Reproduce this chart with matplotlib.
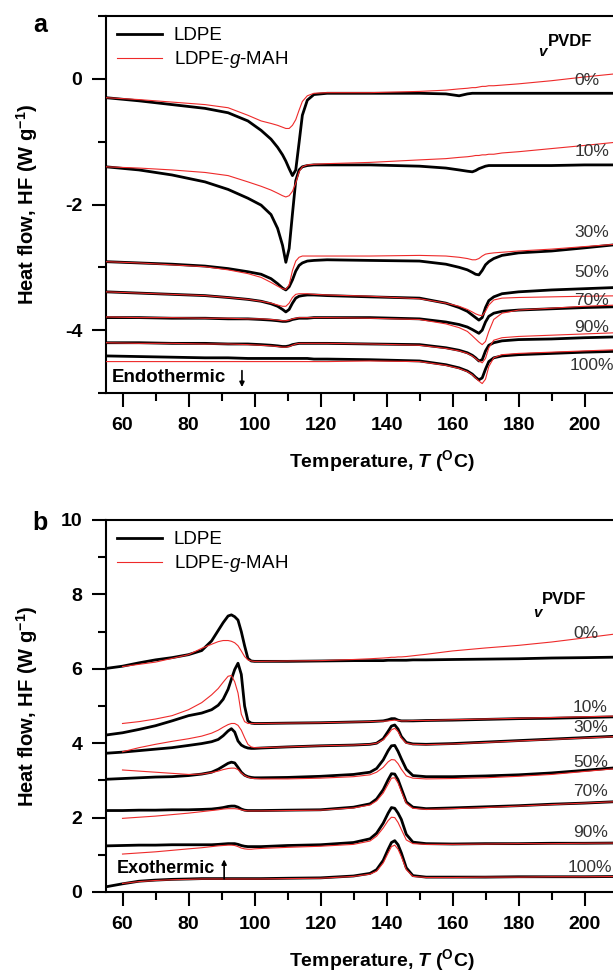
import numpy as np
import matplotlib
matplotlib.use('Agg')
import matplotlib.pyplot as plt
from matplotlib.ticker import MultipleLocator

plt.rcParams['font.family'] = ['Liberation Sans', 'DejaVu Sans']
plt.rcParams['mathtext.fontset'] = 'custom'
plt.rcParams['mathtext.default'] = 'regular'
plt.rcParams['mathtext.it'] = 'Liberation Sans:italic'
plt.rcParams['mathtext.bfit'] = 'Liberation Sans:italic:bold'
plt.rcParams['mathtext.bf'] = 'Liberation Sans:bold'
plt.rcParams['axes.unicode_minus'] = False

# ---- data: panel a (heating, endothermic) ----
compositions = ['0%', '10%', '30%', '50%', '70%', '90%', '100%']

T_a = [55, 65, 75, 85, 92, 98, 102, 105, 107, 108.5, 109.5, 110.5, 111.5, 112.5,
       113.5, 114.5, 116, 118, 122, 135, 150, 158, 162, 164.5, 166, 167, 168, 169,
       170, 171, 172.5, 175, 180, 190, 200, 215]

ldpe_a_0 = [-0.30, -0.35, -0.41, -0.47, -0.54, -0.67, -0.82, -0.96, -1.09, -1.21, -1.31, -1.43,
            -1.54, -1.45, -1.02, -0.58, -0.34, -0.25, -0.23, -0.23, -0.23, -0.24, -0.27, -0.24,
            -0.23, -0.23, -0.23, -0.23, -0.23, -0.23, -0.23, -0.23, -0.23, -0.23, -0.23, -0.23]
mah_a_0 = [-0.30, -0.33, -0.37, -0.41, -0.46, -0.58, -0.67, -0.71, -0.74, -0.77, -0.79, -0.79,
           -0.74, -0.65, -0.50, -0.36, -0.27, -0.23, -0.22, -0.22, -0.20, -0.18, -0.16, -0.15,
           -0.14, -0.14, -0.13, -0.12, -0.12, -0.11, -0.11, -0.10, -0.08, -0.03, 0.03, 0.11]
ldpe_a_10 = [-1.40, -1.45, -1.53, -1.64, -1.76, -1.90, -2.01, -2.16, -2.38, -2.65, -2.92, -2.70,
             -2.15, -1.62, -1.45, -1.40, -1.38, -1.37, -1.37, -1.37, -1.39, -1.42, -1.45, -1.47,
             -1.48, -1.46, -1.43, -1.41, -1.39, -1.38, -1.38, -1.38, -1.38, -1.38, -1.37, -1.37]
mah_a_10 = [-1.40, -1.42, -1.45, -1.49, -1.54, -1.64, -1.71, -1.77, -1.82, -1.86, -1.88, -1.86,
            -1.79, -1.66, -1.48, -1.40, -1.37, -1.36, -1.35, -1.33, -1.29, -1.27, -1.25, -1.24,
            -1.23, -1.22, -1.22, -1.21, -1.21, -1.20, -1.20, -1.18, -1.16, -1.11, -1.06, -0.98]
ldpe_a_30 = [-2.91, -2.93, -2.95, -2.98, -3.02, -3.07, -3.11, -3.18, -3.26, -3.33, -3.36, -3.31,
             -3.20, -3.06, -2.97, -2.93, -2.90, -2.89, -2.88, -2.89, -2.90, -2.95, -3.00, -3.04,
             -3.08, -3.11, -3.12, -3.05, -2.96, -2.91, -2.86, -2.81, -2.77, -2.74, -2.69, -2.61]
mah_a_30 = [-2.91, -2.93, -2.96, -2.99, -3.04, -3.10, -3.16, -3.24, -3.30, -3.34, -3.35, -3.28,
            -3.05, -2.90, -2.84, -2.82, -2.82, -2.82, -2.82, -2.82, -2.81, -2.82, -2.84, -2.86,
            -2.88, -2.88, -2.86, -2.82, -2.79, -2.78, -2.77, -2.76, -2.74, -2.71, -2.67, -2.61]
ldpe_a_50 = [-3.39, -3.41, -3.43, -3.45, -3.48, -3.51, -3.54, -3.58, -3.62, -3.67, -3.71, -3.67,
             -3.57, -3.49, -3.46, -3.45, -3.44, -3.44, -3.45, -3.47, -3.49, -3.57, -3.64, -3.70,
             -3.76, -3.80, -3.84, -3.80, -3.64, -3.53, -3.47, -3.42, -3.39, -3.36, -3.34, -3.31]
mah_a_50 = [-3.39, -3.41, -3.43, -3.45, -3.48, -3.51, -3.54, -3.57, -3.60, -3.62, -3.62, -3.57,
            -3.48, -3.43, -3.42, -3.42, -3.42, -3.43, -3.44, -3.46, -3.50, -3.57, -3.62, -3.67,
            -3.71, -3.74, -3.76, -3.77, -3.70, -3.60, -3.52, -3.49, -3.48, -3.47, -3.46, -3.45]
ldpe_a_70 = [-3.80, -3.80, -3.81, -3.81, -3.82, -3.82, -3.83, -3.84, -3.85, -3.86, -3.86, -3.85,
             -3.83, -3.82, -3.81, -3.81, -3.81, -3.80, -3.80, -3.80, -3.82, -3.87, -3.91, -3.95,
             -3.99, -4.02, -4.05, -4.00, -3.87, -3.78, -3.73, -3.70, -3.68, -3.66, -3.64, -3.62]
mah_a_70 = [-3.79, -3.80, -3.80, -3.81, -3.81, -3.82, -3.82, -3.83, -3.84, -3.85, -3.85, -3.84,
            -3.82, -3.81, -3.80, -3.80, -3.80, -3.80, -3.80, -3.81, -3.83, -3.90, -3.96, -4.02,
            -4.09, -4.14, -4.19, -4.23, -4.18, -4.02, -3.83, -3.73, -3.68, -3.65, -3.62, -3.59]
ldpe_a_90 = [-4.20, -4.20, -4.21, -4.21, -4.22, -4.22, -4.23, -4.24, -4.25, -4.26, -4.26, -4.25,
             -4.23, -4.22, -4.21, -4.21, -4.21, -4.21, -4.21, -4.22, -4.23, -4.28, -4.32, -4.36,
             -4.40, -4.44, -4.49, -4.47, -4.33, -4.24, -4.20, -4.17, -4.15, -4.14, -4.12, -4.10]
mah_a_90 = [-4.20, -4.21, -4.21, -4.22, -4.22, -4.23, -4.24, -4.25, -4.26, -4.27, -4.27, -4.26,
            -4.24, -4.22, -4.21, -4.21, -4.21, -4.21, -4.21, -4.22, -4.24, -4.29, -4.33, -4.37,
            -4.41, -4.45, -4.49, -4.52, -4.45, -4.28, -4.16, -4.12, -4.10, -4.08, -4.06, -4.03]
ldpe_a_100 = [-4.41, -4.42, -4.43, -4.44, -4.44, -4.45, -4.45, -4.45, -4.45, -4.45, -4.45, -4.45,
              -4.45, -4.45, -4.45, -4.45, -4.45, -4.46, -4.46, -4.47, -4.49, -4.55, -4.60, -4.65,
              -4.70, -4.75, -4.79, -4.76, -4.62, -4.50, -4.44, -4.41, -4.39, -4.37, -4.35, -4.33]
mah_a_100 = [-4.50, -4.50, -4.50, -4.50, -4.50, -4.50, -4.50, -4.50, -4.50, -4.50, -4.50, -4.50,
             -4.50, -4.50, -4.50, -4.50, -4.50, -4.50, -4.50, -4.49, -4.50, -4.56, -4.61, -4.66,
             -4.71, -4.76, -4.81, -4.85, -4.78, -4.58, -4.44, -4.39, -4.37, -4.35, -4.33, -4.30]

# ---- data: panel b (cooling, exothermic) ----
nan = np.nan
T_b = [55, 60, 65, 70, 75, 80, 84, 87, 89, 90.5, 92, 93, 94, 95, 96, 97, 98, 99, 100, 102,
       110, 120, 130, 135, 137, 139, 140.5, 141.5, 142.5, 143.5, 144.5, 146, 148, 152, 160,
       170, 180, 190, 200, 215]

ldpe_b_0 = [6.01, 6.07, 6.16, 6.24, 6.30, 6.38, 6.49, 6.75, 7.03, 7.24, 7.42, 7.45, 7.40, 7.31,
            7.00, 6.62, 6.28, 6.21, 6.20, 6.20, 6.20, 6.21, 6.22, 6.22, 6.22, 6.22, 6.23, 6.23,
            6.23, 6.23, 6.23, 6.23, 6.24, 6.24, 6.25, 6.26, 6.27, 6.29, 6.30, 6.32]
mah_b_0 = [nan, 6.06, 6.12, 6.18, 6.28, 6.38, 6.55, 6.66, 6.73, 6.76, 6.76, 6.74, 6.70, 6.62,
           6.48, 6.33, 6.24, 6.21, 6.20, 6.20, 6.21, 6.22, 6.25, 6.27, 6.28, 6.29, 6.30, 6.31,
           6.31, 6.32, 6.32, 6.33, 6.35, 6.39, 6.48, 6.56, 6.63, 6.72, 6.83, 7.00]
ldpe_b_10 = [4.22, 4.28, 4.37, 4.47, 4.60, 4.74, 4.81, 4.90, 5.02, 5.18, 5.45, 5.72, 5.98, 6.15,
             5.85, 5.00, 4.60, 4.54, 4.53, 4.53, 4.54, 4.55, 4.57, 4.58, 4.59, 4.60, 4.63, 4.66,
             4.66, 4.62, 4.60, 4.60, 4.60, 4.61, 4.62, 4.64, 4.66, 4.67, 4.69, 4.72]
mah_b_10 = [nan, 4.53, 4.58, 4.65, 4.74, 4.90, 5.09, 5.30, 5.47, 5.64, 5.80, 5.82, 5.65, 5.35,
            4.78, 4.58, 4.53, 4.53, 4.53, 4.53, 4.54, 4.55, 4.57, 4.58, 4.59, 4.59, 4.60, 4.61,
            4.62, 4.61, 4.60, 4.60, 4.61, 4.61, 4.63, 4.65, 4.67, 4.69, 4.71, 4.74]
ldpe_b_30 = [3.73, 3.76, 3.80, 3.84, 3.88, 3.94, 3.99, 4.04, 4.10, 4.20, 4.33, 4.39, 4.30, 4.06,
             3.95, 3.90, 3.87, 3.86, 3.86, 3.87, 3.90, 3.93, 3.95, 3.97, 4.00, 4.12, 4.32, 4.46,
             4.49, 4.38, 4.18, 4.02, 3.98, 3.97, 3.99, 4.03, 4.07, 4.11, 4.15, 4.21]
mah_b_30 = [nan, 3.77, 3.88, 3.97, 4.05, 4.12, 4.19, 4.27, 4.35, 4.43, 4.50, 4.53, 4.53, 4.48,
            4.35, 4.15, 3.97, 3.90, 3.88, 3.88, 3.90, 3.93, 3.95, 3.97, 4.00, 4.09, 4.24, 4.36,
            4.40, 4.31, 4.14, 4.00, 3.97, 3.96, 3.98, 4.02, 4.06, 4.10, 4.14, 4.20]
ldpe_b_50 = [3.03, 3.05, 3.07, 3.09, 3.10, 3.13, 3.17, 3.22, 3.30, 3.38, 3.46, 3.49, 3.47, 3.35,
             3.22, 3.14, 3.10, 3.08, 3.07, 3.07, 3.08, 3.11, 3.16, 3.22, 3.32, 3.55, 3.80, 3.93,
             3.94, 3.78, 3.58, 3.30, 3.13, 3.10, 3.10, 3.12, 3.15, 3.20, 3.27, 3.38]
mah_b_50 = [nan, 3.28, 3.25, 3.22, 3.19, 3.16, 3.17, 3.21, 3.25, 3.29, 3.32, 3.33, 3.33, 3.29,
            3.20, 3.13, 3.09, 3.06, 3.05, 3.04, 3.04, 3.06, 3.10, 3.15, 3.22, 3.35, 3.50, 3.56,
            3.55, 3.45, 3.30, 3.12, 3.06, 3.04, 3.05, 3.07, 3.11, 3.16, 3.24, 3.36]
ldpe_b_70 = [2.19, 2.19, 2.20, 2.20, 2.21, 2.21, 2.22, 2.23, 2.25, 2.27, 2.30, 2.31, 2.31, 2.28,
             2.23, 2.20, 2.19, 2.19, 2.19, 2.19, 2.20, 2.21, 2.28, 2.37, 2.50, 2.75, 3.02, 3.18,
             3.17, 3.02, 2.78, 2.42, 2.28, 2.24, 2.26, 2.29, 2.32, 2.36, 2.39, 2.45]
mah_b_70 = [nan, 1.98, 2.01, 2.04, 2.08, 2.12, 2.16, 2.19, 2.21, 2.23, 2.24, 2.24, 2.24, 2.23,
            2.21, 2.19, 2.18, 2.18, 2.18, 2.18, 2.19, 2.20, 2.26, 2.34, 2.45, 2.66, 2.90, 3.06,
            3.07, 2.93, 2.70, 2.38, 2.25, 2.22, 2.24, 2.27, 2.31, 2.35, 2.39, 2.45]
ldpe_b_90 = [1.24, 1.25, 1.26, 1.26, 1.27, 1.27, 1.27, 1.27, 1.28, 1.29, 1.30, 1.30, 1.30, 1.28,
             1.25, 1.23, 1.22, 1.22, 1.22, 1.22, 1.25, 1.27, 1.33, 1.43, 1.58, 1.85, 2.12, 2.27,
             2.25, 2.12, 1.95, 1.55, 1.34, 1.30, 1.29, 1.30, 1.30, 1.31, 1.31, 1.32]
mah_b_90 = [nan, 1.02, 1.05, 1.08, 1.12, 1.16, 1.19, 1.22, 1.24, 1.25, 1.26, 1.26, 1.25, 1.22,
            1.18, 1.16, 1.15, 1.15, 1.16, 1.17, 1.20, 1.23, 1.28, 1.37, 1.50, 1.72, 1.92, 2.01,
            2.00, 1.87, 1.68, 1.40, 1.30, 1.28, 1.28, 1.29, 1.30, 1.30, 1.31, 1.32]
ldpe_b_100 = [0.14, 0.22, 0.29, 0.32, 0.34, 0.35, 0.36, 0.36, 0.36, 0.36, 0.36, 0.36, 0.36, 0.36,
              0.36, 0.36, 0.36, 0.36, 0.36, 0.36, 0.37, 0.38, 0.43, 0.50, 0.60, 0.85, 1.15, 1.33,
              1.38, 1.27, 1.05, 0.65, 0.44, 0.40, 0.40, 0.40, 0.41, 0.41, 0.41, 0.42]
mah_b_100 = [nan, 0.23, 0.28, 0.31, 0.33, 0.34, 0.35, 0.35, 0.35, 0.35, 0.35, 0.35, 0.35, 0.35,
             0.35, 0.35, 0.35, 0.35, 0.35, 0.35, 0.36, 0.37, 0.42, 0.48, 0.56, 0.78, 1.05, 1.22,
             1.26, 1.15, 0.95, 0.60, 0.42, 0.39, 0.39, 0.40, 0.40, 0.41, 0.41, 0.42]

ldpe_a = [ldpe_a_0, ldpe_a_10, ldpe_a_30, ldpe_a_50, ldpe_a_70, ldpe_a_90, ldpe_a_100]
mah_a = [mah_a_0, mah_a_10, mah_a_30, mah_a_50, mah_a_70, mah_a_90, mah_a_100]
ldpe_b = [ldpe_b_0, ldpe_b_10, ldpe_b_30, ldpe_b_50, ldpe_b_70, ldpe_b_90, ldpe_b_100]
mah_b = [mah_b_0, mah_b_10, mah_b_30, mah_b_50, mah_b_70, mah_b_90, mah_b_100]

# label placement (data coordinates)
lab_x_a = [197, 197, 197, 197, 197, 197, 195.6]
lab_y_a = [-0.02, -1.16, -2.44, -3.09, -3.52, -3.95, -4.56]
lab_x_b = [196.5, 196.5, 196.5, 196.5, 196.5, 196.5, 195]
lab_y_b = [6.96, 4.97, 4.41, 3.49, 2.69, 1.61, 0.67]

BLACK_LW = 2.0
RED_LW = 0.8
RED = '#ee2a2a'

W, H = 613, 973
fig = plt.figure(figsize=(W / 100, H / 100), dpi=100)
ax_w = 528
ax_a = fig.add_axes([106 / W, (H - 393) / H, ax_w / W, 377 / H])
ax_b = fig.add_axes([106 / W, (H - 892) / H, ax_w / W, 372 / H])


def style_axes(ax, ylim, ymajor, ah):
    ax.set_xlim(55, 215)
    ax.set_ylim(*ylim)
    ax.xaxis.set_major_locator(MultipleLocator(20))
    ax.xaxis.set_minor_locator(MultipleLocator(10))
    ax.yaxis.set_major_locator(MultipleLocator(ymajor))
    ax.yaxis.set_minor_locator(MultipleLocator(ymajor / 2))
    ax.tick_params(which='both', direction='out', width=1.5, top=False, right=False)
    ax.tick_params(which='major', length=10, labelsize=14, pad=7)
    ax.tick_params(which='minor', length=5.5)
    for lab in ax.get_xticklabels() + ax.get_yticklabels():
        lab.set_fontweight('bold')
    for sp in ax.spines.values():
        sp.set_linewidth(1.5)
    ax.set_xlabel(r'Temperature, $\mathbfit{T}$ ($^{O}$C)', fontsize=14, fontweight='bold')
    ax.xaxis.set_label_coords((382 - 106) / ax_w, -55 / ah)
    ax.set_ylabel(r'Heat flow, HF (W g$^{-1}$)', fontsize=14.5, fontweight='bold')
    ax.yaxis.set_label_coords(-66 / ax_w, 0.5)


for ax, T, blacks, reds, lx, ly in [(ax_a, T_a, ldpe_a, mah_a, lab_x_a, lab_y_a),
                                     (ax_b, T_b, ldpe_b, mah_b, lab_x_b, lab_y_b)]:
    for i, (yb, yr) in enumerate(zip(blacks, reds)):
        ax.plot(T, yb, color='black', lw=BLACK_LW, zorder=2,
                label='LDPE' if i == 0 else None)
        ax.plot(T, yr, color=RED, lw=RED_LW, zorder=3,
                label=r'LDPE-$\mathit{g}$-MAH' if i == 0 else None)
        ax.text(lx[i], ly[i], compositions[i], fontsize=12.5, color='#333333',
                ha='left', va='center')

style_axes(ax_a, (-5, 1), 2, 377)
style_axes(ax_b, (0, 10), 2, 372)

for ax in (ax_a, ax_b):
    ax.legend(loc='upper left', bbox_to_anchor=(0.0, 1.0), frameon=False, fontsize=13.5,
              handlelength=2.4, handletextpad=0.6, labelspacing=0.25, borderaxespad=0.2)

# PVDF markers
ax_a.text(189, 0.59, 'PVDF', fontsize=12, fontweight='bold', ha='left', va='center')
ax_a.text(187.4, 0.43, 'v', fontsize=11, fontweight='bold', style='italic', ha='center', va='center')
ax_b.text(187.1, 7.85, 'PVDF', fontsize=12, fontweight='bold', ha='left', va='center')
ax_b.text(185.6, 7.50, 'v', fontsize=11, fontweight='bold', style='italic', ha='center', va='center')

# endo / exo annotations
ax_a.text(56.8, -4.75, 'Endothermic', fontsize=13.5, fontweight='bold', ha='left', va='center')
ax_a.annotate('', xy=(96.2, -4.95), xytext=(96.2, -4.60),
              arrowprops=dict(arrowstyle='-|>', color='black', lw=1.2, mutation_scale=7))
ax_b.text(58.3, 0.62, 'Exothermic', fontsize=13, fontweight='bold', ha='left', va='center')
ax_b.annotate('', xy=(90.8, 0.95), xytext=(90.8, 0.28),
              arrowprops=dict(arrowstyle='-|>', color='black', lw=1.2, mutation_scale=7))

# panel letters
fig.text(40 / W, 1 - 25 / H, 'a', fontsize=18, fontweight='bold', ha='center', va='center')
fig.text(40 / W, 1 - 523 / H, 'b', fontsize=18, fontweight='bold', ha='center', va='center')

fig.savefig('out.png', dpi=100)
